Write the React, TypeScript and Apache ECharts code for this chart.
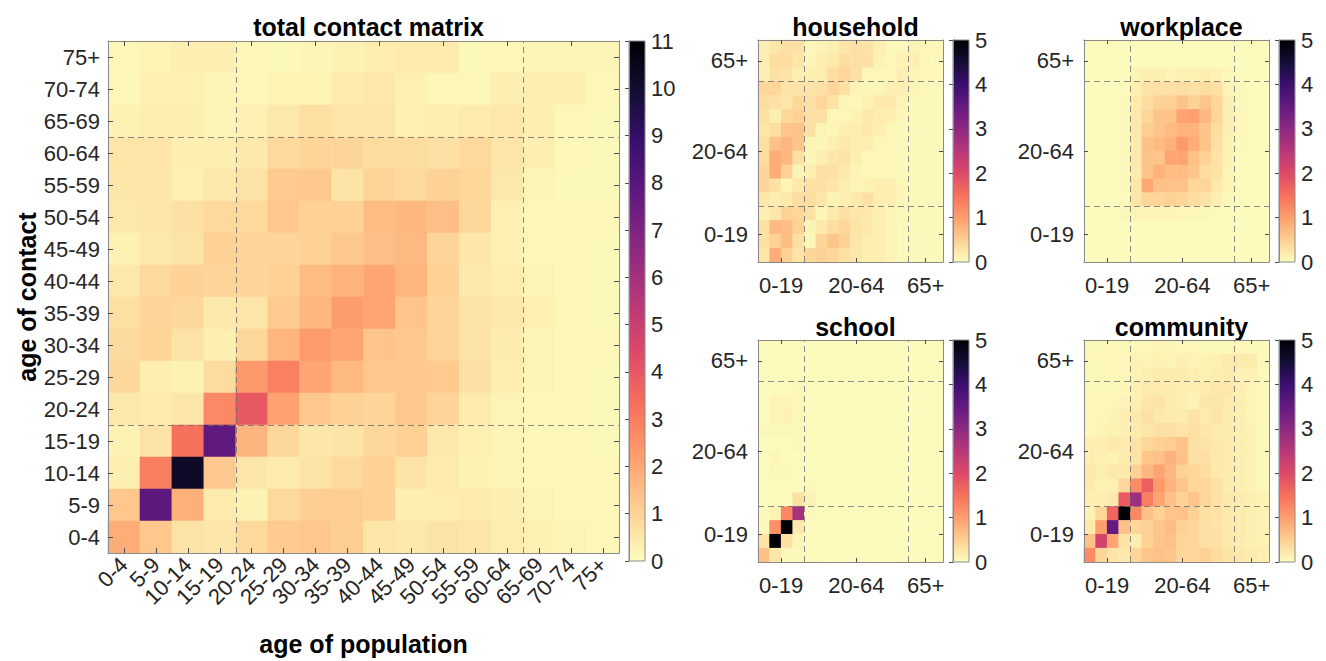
import React, { useEffect, useRef } from "react";
import * as echarts from "echarts";

// ---------- categories / labels ----------
const ageGroups = ["0-4","5-9","10-14","15-19","20-24","25-29","30-34","35-39","40-44","45-49","50-54","55-59","60-64","65-69","70-74","75+"];
const broadLabels = ["0-19","20-64","65+"];
const broadGroupSizes = [4, 9, 3]; // number of 5-year groups per broad group
const broadTickX = [2, 8.5, 14.5];
const broadTickY = [2, 8, 14.5];
const mainTicks = [0,1,2,3,4,5,6,7,8,9,10,11];
const smallTicks = [0,1,2,3,4,5];

// ---------- data (rows listed top -> bottom: contact 75+ ... 0-4; columns population 0-4 ... 75+) ----------
const totalRows = [
  [0.14,0.24,0.35,0.35,0.14,0.12,0.19,0.26,0.38,0.43,0.43,0.12,0.14,0.21,0.21,0.21],
  [0.14,0.31,0.31,0.19,0.14,0.24,0.24,0.46,0.52,0.31,0.17,0.17,0.33,0.33,0.33,0.17],
  [0.28,0.33,0.33,0.19,0.31,0.50,0.71,0.59,0.59,0.31,0.35,0.45,0.52,0.35,0.14,0.12],
  [0.57,0.57,0.35,0.33,0.47,0.85,0.97,0.95,0.80,0.78,0.69,0.85,0.57,0.35,0.17,0.12],
  [0.54,0.54,0.31,0.50,0.64,1.21,1.23,0.62,1.00,0.85,1.06,0.92,0.50,0.21,0.12,0.12],
  [0.50,0.54,0.69,0.85,0.85,1.25,1.02,1.02,1.54,1.66,1.47,0.88,0.31,0.17,0.17,0.17],
  [0.28,0.50,0.64,1.02,0.95,0.95,1.06,1.23,1.47,1.60,0.95,0.54,0.31,0.17,0.14,0.12],
  [0.50,0.85,1.06,0.95,0.95,1.04,1.54,1.75,2.03,1.70,1.02,0.50,0.38,0.21,0.17,0.12],
  [0.71,0.95,0.88,0.50,0.59,1.21,1.66,2.25,2.06,1.35,0.95,0.64,0.50,0.31,0.17,0.12],
  [0.81,0.99,0.64,0.35,0.88,1.70,2.30,2.03,1.35,1.25,0.95,0.64,0.40,0.21,0.14,0.14],
  [0.88,0.38,0.26,0.78,2.34,2.91,2.06,1.60,1.28,1.23,1.21,0.69,0.38,0.21,0.17,0.12],
  [0.50,0.45,0.54,2.72,3.98,2.11,1.25,1.02,0.95,1.25,0.95,0.45,0.21,0.17,0.14,0.12],
  [0.26,0.64,3.30,7.80,1.73,0.88,0.54,0.61,0.88,1.02,0.50,0.31,0.21,0.17,0.14,0.12],
  [0.35,2.96,10.2,1.23,0.54,0.45,0.64,0.85,1.02,0.60,0.45,0.26,0.21,0.17,0.17,0.14],
  [1.25,7.90,1.82,0.45,0.26,0.85,1.09,1.12,1.02,0.35,0.38,0.45,0.33,0.21,0.17,0.14],
  [1.87,1.25,0.64,0.54,0.85,1.21,1.25,1.10,0.57,0.50,0.64,0.59,0.38,0.28,0.21,0.17],
];

const householdRows = [
  [0.15,0.25,0.30,0.30,0.08,0.10,0.15,0.25,0.30,0.28,0.15,0.05,0.06,0.10,0.08,0.08],
  [0.15,0.35,0.35,0.25,0.08,0.15,0.22,0.35,0.30,0.30,0.12,0.08,0.12,0.15,0.08,0.05],
  [0.15,0.30,0.28,0.15,0.15,0.17,0.35,0.42,0.30,0.08,0.08,0.08,0.15,0.10,0.08,0.06],
  [0.42,0.42,0.28,0.28,0.28,0.30,0.42,0.30,0.10,0.08,0.08,0.15,0.15,0.10,0.05,0.05],
  [0.35,0.30,0.25,0.40,0.30,0.42,0.28,0.08,0.08,0.12,0.22,0.22,0.10,0.05,0.05,0.05],
  [0.30,0.15,0.40,0.48,0.30,0.30,0.08,0.08,0.12,0.22,0.17,0.15,0.08,0.05,0.05,0.05],
  [0.25,0.35,0.60,0.65,0.30,0.10,0.08,0.15,0.17,0.22,0.15,0.08,0.05,0.05,0.05,0.05],
  [0.30,0.65,0.75,0.60,0.10,0.08,0.15,0.22,0.17,0.15,0.08,0.08,0.05,0.05,0.05,0.05],
  [0.35,0.85,0.75,0.30,0.08,0.15,0.25,0.28,0.15,0.08,0.08,0.05,0.05,0.05,0.05,0.05],
  [0.42,0.85,0.48,0.10,0.15,0.30,0.30,0.22,0.10,0.08,0.08,0.05,0.05,0.05,0.05,0.05],
  [0.42,0.30,0.10,0.22,0.30,0.30,0.25,0.15,0.10,0.12,0.17,0.15,0.08,0.05,0.05,0.05],
  [0.25,0.17,0.22,0.35,0.35,0.25,0.10,0.15,0.22,0.30,0.17,0.15,0.08,0.05,0.05,0.05],
  [0.15,0.25,0.48,0.42,0.30,0.08,0.22,0.30,0.25,0.22,0.15,0.10,0.08,0.05,0.05,0.05],
  [0.30,0.72,0.68,0.48,0.10,0.22,0.35,0.42,0.28,0.22,0.15,0.10,0.06,0.06,0.06,0.06],
  [0.30,0.48,0.68,0.30,0.08,0.42,0.60,0.48,0.25,0.17,0.15,0.10,0.06,0.06,0.06,0.06],
  [0.25,0.85,0.48,0.28,0.42,0.48,0.42,0.30,0.25,0.15,0.15,0.10,0.06,0.06,0.06,0.06],
];

const workplaceRows = [
  [0.03,0.03,0.03,0.03,0.03,0.03,0.03,0.03,0.03,0.03,0.03,0.03,0.03,0.03,0.03,0.03],
  [0.03,0.03,0.03,0.03,0.03,0.03,0.03,0.03,0.03,0.03,0.03,0.03,0.03,0.03,0.03,0.03],
  [0.03,0.03,0.03,0.03,0.10,0.15,0.15,0.10,0.13,0.12,0.16,0.13,0.06,0.03,0.03,0.03],
  [0.03,0.03,0.03,0.04,0.15,0.28,0.30,0.30,0.35,0.30,0.35,0.30,0.10,0.05,0.03,0.03],
  [0.03,0.03,0.03,0.06,0.20,0.35,0.48,0.48,0.62,0.48,0.60,0.42,0.15,0.06,0.03,0.03],
  [0.03,0.03,0.03,0.06,0.22,0.42,0.60,0.60,0.95,1.00,0.75,0.42,0.15,0.06,0.03,0.03],
  [0.03,0.03,0.03,0.06,0.22,0.52,0.60,0.70,0.80,0.80,0.60,0.35,0.15,0.05,0.03,0.03],
  [0.03,0.03,0.03,0.06,0.22,0.65,0.70,0.80,1.05,0.85,0.60,0.30,0.12,0.05,0.03,0.03],
  [0.03,0.03,0.03,0.06,0.22,0.60,0.60,0.95,0.95,0.65,0.48,0.28,0.12,0.04,0.03,0.03],
  [0.03,0.03,0.03,0.06,0.20,0.60,0.80,0.70,0.70,0.60,0.35,0.28,0.10,0.04,0.03,0.03],
  [0.03,0.03,0.03,0.06,0.25,0.90,0.65,0.65,0.65,0.42,0.42,0.22,0.10,0.04,0.03,0.03],
  [0.03,0.03,0.03,0.04,0.25,0.42,0.42,0.48,0.42,0.35,0.28,0.15,0.06,0.03,0.03,0.03],
  [0.03,0.03,0.03,0.05,0.10,0.10,0.10,0.10,0.08,0.06,0.05,0.04,0.03,0.03,0.03,0.03],
  [0.03,0.03,0.03,0.03,0.03,0.03,0.03,0.03,0.03,0.03,0.03,0.03,0.03,0.03,0.03,0.03],
  [0.03,0.03,0.03,0.03,0.03,0.03,0.03,0.03,0.03,0.03,0.03,0.03,0.03,0.03,0.03,0.03],
  [0.03,0.03,0.03,0.03,0.03,0.03,0.03,0.03,0.03,0.03,0.03,0.03,0.03,0.03,0.03,0.03],
];

const schoolRows = [
  [0.02,0.02,0.02,0.02,0.02,0.02,0.02,0.02,0.02,0.02,0.02,0.02,0.02,0.02,0.02,0.02],
  [0.02,0.02,0.02,0.02,0.02,0.02,0.02,0.02,0.02,0.02,0.02,0.02,0.02,0.02,0.02,0.02],
  [0.02,0.02,0.02,0.02,0.02,0.02,0.02,0.02,0.02,0.02,0.02,0.02,0.02,0.02,0.02,0.02],
  [0.02,0.02,0.02,0.05,0.02,0.02,0.02,0.02,0.02,0.02,0.02,0.02,0.02,0.02,0.02,0.02],
  [0.02,0.10,0.10,0.07,0.02,0.02,0.02,0.02,0.02,0.02,0.02,0.02,0.02,0.02,0.02,0.02],
  [0.02,0.10,0.13,0.07,0.02,0.02,0.02,0.02,0.02,0.02,0.02,0.02,0.02,0.02,0.02,0.02],
  [0.06,0.06,0.06,0.06,0.02,0.02,0.02,0.02,0.02,0.02,0.02,0.02,0.02,0.02,0.02,0.02],
  [0.02,0.02,0.02,0.05,0.02,0.02,0.02,0.02,0.02,0.02,0.02,0.02,0.02,0.02,0.02,0.02],
  [0.02,0.07,0.02,0.02,0.02,0.02,0.02,0.02,0.02,0.02,0.02,0.02,0.02,0.02,0.02,0.02],
  [0.02,0.06,0.06,0.02,0.02,0.02,0.02,0.02,0.02,0.02,0.02,0.02,0.02,0.02,0.02,0.02],
  [0.02,0.02,0.02,0.02,0.07,0.02,0.02,0.02,0.02,0.02,0.02,0.02,0.02,0.02,0.02,0.02],
  [0.02,0.02,0.02,0.30,0.12,0.02,0.02,0.02,0.02,0.02,0.02,0.02,0.02,0.02,0.02,0.02],
  [0.06,0.12,1.25,2.70,0.06,0.02,0.02,0.02,0.02,0.02,0.02,0.02,0.02,0.02,0.02,0.02],
  [0.06,1.17,5.00,0.22,0.02,0.02,0.02,0.02,0.02,0.02,0.02,0.02,0.02,0.02,0.02,0.02],
  [0.28,5.00,0.30,0.08,0.02,0.02,0.02,0.02,0.02,0.02,0.02,0.02,0.02,0.02,0.02,0.02],
  [0.65,0.25,0.06,0.06,0.02,0.02,0.02,0.02,0.02,0.02,0.02,0.02,0.02,0.02,0.02,0.02],
];

const communityRows = [
  [0.06,0.06,0.08,0.08,0.07,0.08,0.10,0.10,0.08,0.08,0.06,0.06,0.06,0.07,0.06,0.06],
  [0.06,0.06,0.08,0.08,0.12,0.10,0.12,0.10,0.14,0.10,0.12,0.14,0.20,0.20,0.20,0.06],
  [0.06,0.06,0.08,0.08,0.12,0.15,0.18,0.18,0.18,0.15,0.12,0.15,0.20,0.10,0.14,0.06],
  [0.06,0.06,0.06,0.08,0.14,0.20,0.20,0.18,0.15,0.14,0.20,0.23,0.23,0.15,0.10,0.06],
  [0.06,0.08,0.08,0.10,0.15,0.25,0.28,0.18,0.15,0.10,0.25,0.25,0.20,0.15,0.10,0.06],
  [0.08,0.08,0.10,0.15,0.22,0.30,0.22,0.20,0.18,0.28,0.20,0.28,0.20,0.15,0.10,0.06],
  [0.08,0.10,0.12,0.14,0.20,0.25,0.30,0.30,0.28,0.30,0.25,0.20,0.18,0.15,0.12,0.06],
  [0.15,0.15,0.22,0.20,0.28,0.40,0.48,0.52,0.65,0.30,0.28,0.22,0.18,0.15,0.12,0.06],
  [0.15,0.14,0.12,0.18,0.28,0.60,0.65,0.80,0.65,0.30,0.30,0.22,0.18,0.15,0.12,0.06],
  [0.22,0.15,0.22,0.20,0.48,0.75,0.95,0.75,0.48,0.42,0.35,0.22,0.18,0.15,0.12,0.06],
  [0.20,0.12,0.14,0.42,1.20,1.72,1.05,0.80,0.60,0.42,0.42,0.30,0.18,0.15,0.12,0.06],
  [0.15,0.15,0.22,1.78,2.80,1.35,0.95,0.65,0.48,0.60,0.42,0.28,0.22,0.18,0.15,0.12],
  [0.12,0.42,1.64,5.00,1.25,0.65,0.48,0.60,0.65,0.48,0.30,0.28,0.22,0.18,0.15,0.12],
  [0.22,1.00,3.50,0.65,0.42,0.48,0.60,0.70,0.48,0.42,0.30,0.28,0.22,0.18,0.15,0.12],
  [0.65,2.15,0.95,0.28,0.18,0.48,0.60,0.65,0.42,0.42,0.30,0.30,0.22,0.18,0.15,0.12],
  [1.20,0.42,0.28,0.22,0.42,0.60,0.65,0.60,0.42,0.42,0.48,0.35,0.28,0.22,0.18,0.15],
];

// ---------- style ----------
const FONT = "'Liberation Sans', Arial, Helvetica, sans-serif";
const AXIS_COLOR = "#8a8a8a";
const TICK_COLOR = "#4d4d4d";
const TEXT_COLOR = "#262626";
const magmaLowToHigh = ["#fcfdbf","#fecf92","#fe9f6d","#f7705c","#de4968","#b73779","#8c2981","#641a80","#3b0f70","#140e36","#000004"];

function toHeat(rowsTopDown: number[][]) {
  const n = rowsTopDown.length;
  const out: number[][] = [];
  rowsTopDown.forEach((row, k) => row.forEach((v, c) => out.push([c, n - 1 - k, v])));
  return out;
}

function boundaries(): number[] {
  const b: number[] = [];
  let acc = 0;
  for (let i = 0; i < broadGroupSizes.length - 1; i++) { acc += broadGroupSizes[i]; b.push(acc); }
  return b;
}

function buildOption() {
  const grids: any[] = [];
  const xAxes: any[] = [];
  const yAxes: any[] = [];
  const series: any[] = [];
  const titles: any[] = [];
  const mainHeat: number[] = [];
  const smallHeat: number[] = [];
  const bnd = boundaries();
  const idx = ageGroups.map((_, i) => String(i));

  const gradient = new echarts.graphic.LinearGradient(0, 0, 0, 1,
    magmaLowToHigh.slice().reverse().map((c, i) => ({ offset: i / 10, color: c })));

  const lineAxis = { show: true, lineStyle: { color: AXIS_COLOR, width: 1 } };
  const labelStyle = { fontFamily: FONT, fontSize: 22, color: TEXT_COLOR };

  const dashedSeries = (xi: number, yi: number) => ({
    type: "line", xAxisIndex: xi, yAxisIndex: yi, data: [], silent: true, z: 4,
    markLine: {
      silent: true, symbol: ["none", "none"], label: { show: false }, animation: false,
      lineStyle: { type: [6, 4], color: "rgba(110,110,110,0.8)", width: 1 },
      data: [...bnd.map((b) => ({ xAxis: b })), ...bnd.map((b) => ({ yAxis: b }))],
    },
  });

  const colorbar = (left: number, top: number, height: number, max: number, ticks: number[]) => {
    const g = grids.length;
    grids.push({ left, top, width: 16, height, show: true, backgroundColor: gradient, borderColor: AXIS_COLOR, borderWidth: 1 });
    const xi = xAxes.length;
    xAxes.push({ type: "value", gridIndex: g, min: 0, max: 1, show: false });
    const yi = yAxes.length;
    yAxes.push({
      type: "value", gridIndex: g, min: 0, max, interval: 1, position: "right", z: 10,
      axisLine: lineAxis,
      axisTick: { show: true, inside: true, length: 4, lineStyle: { color: TICK_COLOR } },
      axisLabel: { ...labelStyle, margin: 6, formatter: (v: number) => (ticks.indexOf(v) >= 0 ? String(v) : "") },
      splitLine: { show: false },
    });
    series.push({ type: "line", xAxisIndex: xi, yAxisIndex: yi, data: [], silent: true });
  };

  // ----- main panel -----
  {
    const g = grids.length;
    grids.push({ left: 108, top: 41, width: 511, height: 520 });
    const tick = { show: true, inside: true, alignWithLabel: true, length: 5, lineStyle: { color: TICK_COLOR } };
    const cx = xAxes.length;
    xAxes.push({
      type: "category", gridIndex: g, data: ageGroups, position: "bottom", z: 10,
      axisLine: lineAxis, axisTick: tick, splitLine: { show: false },
      axisLabel: { ...labelStyle, rotate: 45, margin: 8, interval: 0 },
      name: "age of population", nameLocation: "middle", nameGap: 78,
      nameTextStyle: { fontFamily: FONT, fontSize: 25, fontWeight: "bold", color: "#000" },
    });
    xAxes.push({ type: "category", gridIndex: g, data: ageGroups, position: "top", z: 10,
      axisLine: lineAxis, axisTick: tick, axisLabel: { show: false }, splitLine: { show: false } });
    const vx = xAxes.length;
    xAxes.push({ type: "value", gridIndex: g, min: 0, max: 16, show: false });
    const cy = yAxes.length;
    yAxes.push({
      type: "category", gridIndex: g, data: ageGroups, position: "left", z: 10,
      axisLine: lineAxis, axisTick: tick, splitLine: { show: false },
      axisLabel: { ...labelStyle, margin: 8, interval: 0 },
      name: "age of contact", nameLocation: "middle", nameGap: 66,
      nameTextStyle: { fontFamily: FONT, fontSize: 25, fontWeight: "bold", color: "#000" },
    });
    yAxes.push({ type: "category", gridIndex: g, data: ageGroups, position: "right", z: 10,
      axisLine: lineAxis, axisTick: tick, axisLabel: { show: false }, splitLine: { show: false } });
    const vy = yAxes.length;
    yAxes.push({ type: "value", gridIndex: g, min: 0, max: 16, show: false });
    mainHeat.push(series.length);
    series.push({ type: "heatmap", xAxisIndex: cx, yAxisIndex: cy, data: toHeat(totalRows), itemStyle: { borderWidth: 0 }, silent: true });
    series.push(dashedSeries(vx, vy));
    titles.push({ text: "total contact matrix", left: 363.5, top: 9, textAlign: "center",
      textStyle: { fontFamily: FONT, fontSize: 25, fontWeight: "bold", color: "#000" } });
    colorbar(629, 41, 520, 11, mainTicks);
  }

  // ----- small panels -----
  const small = (title: string, rows: number[][], left: number, top: number) => {
    const g = grids.length;
    const height = 222;
    grids.push({ left, top, width: 185, height });
    const cx = xAxes.length;
    xAxes.push({ type: "category", gridIndex: g, data: idx, show: false });
    const cy = yAxes.length;
    yAxes.push({ type: "category", gridIndex: g, data: idx, show: false });
    const tickX = { show: true, inside: true, length: 4, lineStyle: { color: TICK_COLOR }, customValues: broadTickX };
    const tickY = { show: true, inside: true, length: 4, lineStyle: { color: TICK_COLOR }, customValues: broadTickY };
    const vx = xAxes.length;
    xAxes.push({
      type: "value", gridIndex: g, min: 0, max: 16, position: "bottom", z: 10,
      axisLine: lineAxis, axisTick: tickX, splitLine: { show: false },
      axisLabel: { ...labelStyle, margin: 12, customValues: broadTickX,
        formatter: (v: number) => { const i = broadTickX.indexOf(v); return i >= 0 ? broadLabels[i] : ""; } },
    });
    xAxes.push({ type: "value", gridIndex: g, min: 0, max: 16, position: "top", z: 10,
      axisLine: lineAxis, axisTick: tickX, axisLabel: { show: false }, splitLine: { show: false } });
    const vy = yAxes.length;
    yAxes.push({
      type: "value", gridIndex: g, min: 0, max: 16, position: "left", z: 10,
      axisLine: lineAxis, axisTick: tickY, splitLine: { show: false },
      axisLabel: { ...labelStyle, margin: 10, customValues: broadTickY,
        formatter: (v: number) => { const i = broadTickY.indexOf(v); return i >= 0 ? broadLabels[i] : ""; } },
    });
    yAxes.push({ type: "value", gridIndex: g, min: 0, max: 16, position: "right", z: 10,
      axisLine: lineAxis, axisTick: tickY, axisLabel: { show: false }, splitLine: { show: false } });
    smallHeat.push(series.length);
    series.push({ type: "heatmap", xAxisIndex: cx, yAxisIndex: cy, data: toHeat(rows), itemStyle: { borderWidth: 0 }, silent: true });
    series.push(dashedSeries(vx, vy));
    titles.push({ text: title, left: left + 92.5, top: top - 31, textAlign: "center",
      textStyle: { fontFamily: FONT, fontSize: 25, fontWeight: "bold", color: "#000" } });
    colorbar(left + 195, top, height, 5, smallTicks);
  };

  small("household", householdRows, 758, 40);
  small("workplace", workplaceRows, 1084, 40);
  small("school", schoolRows, 758, 340);
  small("community", communityRows, 1084, 340);

  return {
    animation: false,
    backgroundColor: "#ffffff",
    textStyle: { fontFamily: FONT },
    title: titles,
    grid: grids,
    xAxis: xAxes,
    yAxis: yAxes,
    visualMap: [
      { type: "continuous", show: false, min: 0, max: 11, seriesIndex: mainHeat, inRange: { color: magmaLowToHigh } },
      { type: "continuous", show: false, min: 0, max: 5, seriesIndex: smallHeat, inRange: { color: magmaLowToHigh } },
    ],
    series,
  };
}

export default function App() {
  const ref = useRef<HTMLDivElement>(null);
  useEffect(() => {
    document.body.style.margin = "0";
    if (!ref.current) return;
    const chart = echarts.init(ref.current, undefined, { renderer: "svg" });
    chart.setOption(buildOption() as any);
    return () => chart.dispose();
  }, []);
  return <div ref={ref} style={{ width: 1326, height: 661 }} />;
}
